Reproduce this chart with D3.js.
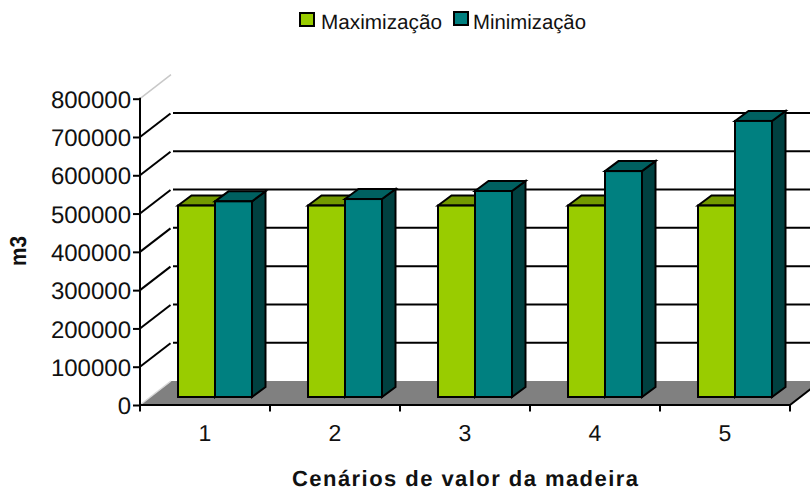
<!DOCTYPE html>
<html><head><meta charset="utf-8">
<script src="https://cdn.jsdelivr.net/npm/d3@7"></script>
<style>html,body{margin:0;padding:0;background:#fff}svg{display:block}text{font-family:"Liberation Sans",Arial,sans-serif;fill:#111;text-rendering:geometricPrecision}</style>
</head><body><svg id="c" width="810" height="491"></svg>
<script>
const categories = ["1","2","3","4","5"];
const maximizacao = [500000,500000,500000,500000,500000];
const minimizacao = [511000,517000,538000,590000,721000];
const yTicks = [0,100000,200000,300000,400000,500000,600000,700000,800000];
const seriesNames = ["Maximização","Minimização"];
const seriesColors = ["#99cc00","#008080"];
const topColors = ["#739900","#006060"];
const sideColors = ["#4d6600","#004040"];

const svg = d3.select("#c");
const x = d3.scaleBand().domain(categories).range([140,790]);
const y = d3.scaleLinear().domain([0,800000]).range([405,98.7]);
const dep = {x:31,y:-24}, front = {x:10,y:-8}, barDep = {x:13.5,y:-10};
const barW = 37, barOff = 38;
const line = (x1,y1,x2,y2,c="#000",w=2)=>svg.append("line").attr("x1",x1).attr("y1",y1).attr("x2",x2).attr("y2",y2).attr("stroke",c).attr("stroke-width",w);

// floor
svg.append("path").attr("d",`M140,405L${140+dep.x},${405+dep.y}H${790+dep.x}L790,405Z`).attr("fill","#808080");
line(140,405,140+dep.x,405+dep.y,"#d8d8d8",1.5);
line(790,405,790+dep.x,405+dep.y);

// walls
yTicks.slice(1).forEach(t=>{
  const yy=y(t);
  if(t===800000){
    line(140,yy,140+dep.x,yy+dep.y,"#c8c8c8",1.5);
  } else {
    line(140,yy,140+dep.x-0.5,yy+dep.y+0.5);
    line(140+dep.x+2,yy+dep.y,810,yy+dep.y);
  }
});

// bars
categories.forEach((c,i)=>{
  [maximizacao[i],minimizacao[i]].forEach((v,s)=>{
    const x0=x(c)+barOff+s*barW, x1=x0+barW;
    const base=y(0)+front.y, top=base-(y(0)-y(v));
    const g=svg.append("g").attr("stroke","#000").attr("stroke-width",2).attr("stroke-linejoin","miter");
    g.append("path").attr("fill",sideColors[s])
      .attr("d",`M${x1},${top}l${barDep.x},${barDep.y}V${base+barDep.y}L${x1},${base}Z`);
    g.append("path").attr("fill",topColors[s])
      .attr("d",`M${x0},${top}l${barDep.x},${barDep.y}H${x1+barDep.x}L${x1},${top}Z`);
    g.append("rect").attr("x",x0).attr("y",top).attr("width",barW).attr("height",base-top).attr("fill",seriesColors[s]);
  });
});

// axes
const yAxis=d3.axisLeft(y).tickValues(yTicks).tickSize(7).tickFormat(d3.format("d")).tickPadding(3);
const gy=svg.append("g").attr("transform","translate(140,0)").call(yAxis);
const xAxis=d3.axisBottom(x).tickValues([]).tickSize(0);
const gx=svg.append("g").attr("transform","translate(0,405)").call(xAxis);
[gy,gx].forEach(g=>{g.selectAll("path").attr("stroke","#000").attr("stroke-width",2);
  g.selectAll("line").attr("stroke","#000").attr("stroke-width",2);});
gy.select(".domain").attr("d",`M0,${y(800000)-1}V${y(0)+1}`);
gx.select(".domain").attr("d","M139,0H791");
gy.selectAll("text").attr("font-size",24).attr("dy","0.36em").attr("fill","#111")
  .attr("text-anchor","end").attr("x",-9);
d3.range(categories.length+1).forEach(i=>{const xx=140+i*x.step(); line(xx,405,xx,411.5);});

// category labels
svg.selectAll(".cat").data(categories).join("text").attr("class","cat")
  .attr("x",d=>x(d)+x.bandwidth()/2).attr("y",441).attr("text-anchor","middle").attr("font-size",23).text(d=>d);

// titles
svg.append("text").attr("x",292).attr("y",486).attr("font-size",22).attr("font-weight","bold")
  .attr("textLength",346).attr("lengthAdjust","spacing").text("Cenários de valor da madeira");
svg.append("text").attr("transform","translate(26,266) rotate(-90)").attr("font-size",23).attr("font-weight","bold")
  .attr("textLength",30).attr("lengthAdjust","spacingAndGlyphs").text("m3");

// legend
[[300,321,121,13],[454,473,113,12]].forEach((p,i)=>{
  svg.append("rect").attr("x",p[0]).attr("y",p[3]).attr("width",14).attr("height",13).attr("fill",seriesColors[i]).attr("stroke","#000").attr("stroke-width",2);
  svg.append("text").attr("x",p[1]).attr("y",29).attr("font-size",20.6).attr("textLength",p[2]).attr("lengthAdjust","spacingAndGlyphs").text(seriesNames[i]);
});
</script></body></html>
